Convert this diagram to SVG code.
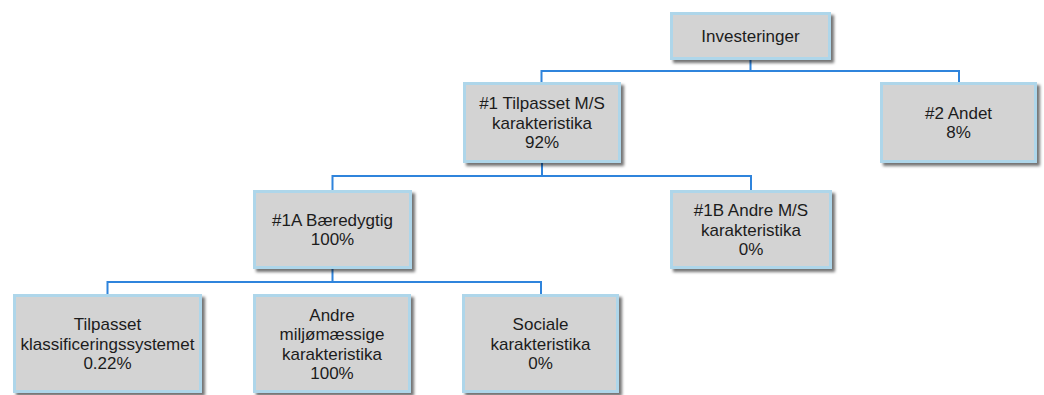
<svg xmlns="http://www.w3.org/2000/svg" width="1044" height="395" viewBox="0 0 1044 395">
<defs>
<filter id="sh" x="-10%" y="-10%" width="130%" height="140%">
<feDropShadow dx="3" dy="3" stdDeviation="1.6" flood-color="#000" flood-opacity="0.55"/>
</filter>
</defs>
<style>
.box{fill:#d3d3d3;stroke:#aed6ea;stroke-width:3;filter:url(#sh)}
.t{font-family:"Liberation Sans",Arial,sans-serif;font-size:17px;fill:#1c1c1c;text-anchor:middle}
.c{fill:none;stroke:#2f84dc;stroke-width:2}
</style>
<rect width="1044" height="395" fill="#fff"/>
<g id="connectors">
<path class="c" d="M750.5 59V71M541.5 82V71H959V82"/>
<path class="c" d="M542 163V176M332.5 190V176H751V190"/>
<path class="c" d="M332.5 269V282M107.5 294V282H541V294"/>
</g>
<g id="investeringer">
<rect class="box" x="671.5" y="13.5" width="158" height="45"/>
<text class="t" x="750.5" y="41.5">Investeringer</text>
</g>
<g id="n1">
<rect class="box" x="464.5" y="83.5" width="155" height="78"/>
<text class="t" x="542" y="109">#1 Tilpasset M/S<tspan x="542" dy="19.5">karakteristika</tspan><tspan x="542" dy="19.5">92%</tspan></text>
</g>
<g id="n2">
<rect class="box" x="881.5" y="83.5" width="154" height="78"/>
<text class="t" x="958.5" y="118.5">#2 Andet<tspan x="958.5" dy="19.5">8%</tspan></text>
</g>
<g id="n1a">
<rect class="box" x="254.5" y="191.5" width="156" height="76"/>
<text class="t" x="332.5" y="225.5">#1A Bæredygtig<tspan x="332.5" dy="19.5">100%</tspan></text>
</g>
<g id="n1b">
<rect class="box" x="671.5" y="191.5" width="159" height="76"/>
<text class="t" x="751" y="216">#1B Andre M/S<tspan x="751" dy="19.5">karakteristika</tspan><tspan x="751" dy="19.5">0%</tspan></text>
</g>
<g id="tilpasset">
<rect class="box" x="14.5" y="295.5" width="186" height="96"/>
<text class="t" x="107.5" y="330">Tilpasset<tspan x="107.5" dy="19.5">klassificeringssystemet</tspan><tspan x="107.5" dy="19.5">0.22%</tspan></text>
</g>
<g id="andre">
<rect class="box" x="254.5" y="295.5" width="155" height="96"/>
<text class="t" x="332" y="320.5">Andre<tspan x="332" dy="19.5">miljømæssige</tspan><tspan x="332" dy="19.5">karakteristika</tspan><tspan x="332" dy="19.5">100%</tspan></text>
</g>
<g id="sociale">
<rect class="box" x="463.5" y="295.5" width="154" height="96"/>
<text class="t" x="540.5" y="330">Sociale<tspan x="540.5" dy="19.5">karakteristika</tspan><tspan x="540.5" dy="19.5">0%</tspan></text>
</g>
</svg>
